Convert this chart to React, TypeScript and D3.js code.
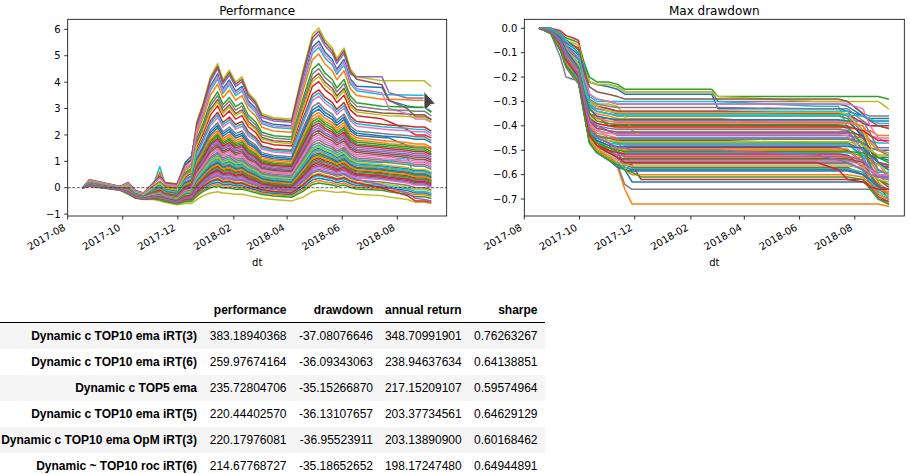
import React from 'react';
import * as d3 from 'd3';

// ---------- data ----------
const perfDates = ['2017-08-18', '2017-08-25', '2017-09-28', '2017-10-07', '2017-10-15', '2017-10-24', '2017-11-04', '2017-11-11', '2017-11-17', '2017-11-30', '2017-12-09', '2017-12-16', '2017-12-22', '2017-12-29', '2018-01-06', '2018-01-14', '2018-01-20', '2018-01-27', '2018-02-03', '2018-02-10', '2018-02-17', '2018-02-25', '2018-03-04', '2018-03-17', '2018-04-06', '2018-04-19', '2018-04-29', '2018-05-06', '2018-05-13', '2018-05-21', '2018-05-26', '2018-06-03', '2018-06-10', '2018-06-17', '2018-07-15', '2018-07-23', '2018-08-12', '2018-08-21', '2018-08-31', '2018-09-07'];

const perfSeries: number[][] = [
  [0, .18, -.02, -.02, -.25, -.32, -.12, -.02, -.17, -.25, .15, .25, 1.03, 1.45, 2.0, 2.28, 1.95, 2.12, 1.88, 1.98, 1.65, 1.48, 1.2, 1.1, 1.05, 2.08, 2.83, 2.98, 2.74, 2.58, 2.36, 2.58, 2.15, 1.98, 1.9, 1.88, 1.6, 1.55, 1.55, 1.5],
  [0, .17, -.03, -.04, -.26, -.33, -.15, -.06, -.2, -.28, .09, .18, .91, 1.31, 1.82, 2.08, 1.78, 1.93, 1.71, 1.8, 1.49, 1.33, 1.07, .98, .93, 1.88, 2.59, 2.73, 2.51, 2.36, 2.16, 2.36, 1.96, 1.8, 1.7, 1.67, 1.62, 1.57, 1.57, 1.45],
  [0, .16, -.04, -.06, -.27, -.34, -.17, -.09, -.23, -.31, .05, .13, .82, 1.21, 1.69, 1.94, 1.65, 1.79, 1.58, 1.66, 1.38, 1.22, .98, .88, .83, 1.74, 2.41, 2.54, 2.34, 2.19, 2.0, 2.19, 1.82, 1.66, 1.57, 1.54, 1.49, 1.43, 1.43, 1.31],
  [0, .22, 0, .05, -.2, -.28, -.01, .14, -.05, -.11, .4, .54, 1.53, 2.05, 2.75, 3.1, 2.68, 2.91, 2.6, 2.73, 2.31, 2.1, 1.74, 1.63, 1.58, 2.9, 3.84, 4.02, 3.71, 3.5, 3.22, 3.5, 2.95, 2.73, 2.61, 2.5, 2.2, 2.0, 2.0, 1.9],
  [0, .15, -.04, -.07, -.28, -.35, -.19, -.12, -.25, -.33, 0, .08, .73, 1.1, 1.56, 1.79, 1.52, 1.65, 1.45, 1.53, 1.26, 1.11, .88, .79, .74, 1.59, 2.23, 2.36, 2.17, 2.03, 1.85, 2.03, 1.68, 1.53, 1.44, 1.41, 1.35, 1.29, 1.29, 1.18],
  [0, .14, -.04, -.08, -.29, -.36, -.21, -.15, -.27, -.35, -.04, .03, .64, 1.0, 1.43, 1.64, 1.39, 1.51, 1.32, 1.4, 1.14, 1.0, .78, .7, .65, 1.44, 2.05, 2.18, 2.0, 1.87, 1.7, 1.87, 1.54, 1.4, 1.31, 1.28, 1.22, 1.15, 1.15, 1.05],
  [0, .14, -.05, -.1, -.3, -.36, -.23, -.18, -.29, -.38, -.09, -.02, .55, .89, 1.3, 1.5, 1.26, 1.37, 1.2, 1.26, 1.03, .89, .69, .6, .55, 1.3, 1.87, 1.99, 1.82, 1.7, 1.55, 1.7, 1.4, 1.26, 1.18, 1.15, 1.08, 1.01, 1.01, .91],
  [0, .13, -.05, -.11, -.31, -.37, -.25, -.21, -.32, -.4, -.13, -.07, .46, .79, 1.16, 1.35, 1.13, 1.23, 1.07, 1.13, .91, .78, .59, .51, .46, 1.15, 1.69, 1.81, 1.65, 1.54, 1.39, 1.54, 1.26, 1.13, 1.05, 1.01, .95, .88, .88, .78],
  [0, .3, .05, .2, -.1, -.2, .2, .45, .2, .15, .9, 1.1, 2.5, 3.2, 4.2, 4.7, 4.1, 4.45, 4.0, 4.2, 3.6, 3.3, 2.8, 2.65, 2.6, 4.5, 5.8, 6.05, 5.6, 5.3, 4.9, 5.3, 4.5, 4.2, 4.05, 4.05, 4.05, 4.05, 4.05, 3.85],
  [0, .27, .03, .15, -.14, -.23, .12, .8, .11, .05, .72, .9, 2.15, 2.78, 3.67, 4.12, 3.58, 3.89, 3.49, 3.67, 3.13, 2.86, 2.42, 2.28, 2.23, 3.92, 5.09, 5.31, 4.91, 4.65, 4.29, 4.65, 3.94, 3.67, 3.53, 3.52, 3.51, 3.5, 3.5, 3.32],
  [0, .28, .04, .16, -.12, -.22, .15, .55, .14, .09, .95, 1.2, 2.26, 2.92, 3.85, 4.31, 3.76, 4.08, 3.66, 3.84, 3.29, 3.01, 2.54, 2.4, 2.35, 4.11, 5.32, 5.56, 5.14, 4.86, 4.49, 4.86, 4.12, 3.84, 3.8, 3.3, 3.1, 3.05, 3.05, 2.9],
  [0, .26, .03, .13, -.15, -.24, .1, .6, .08, .02, .66, .83, 2.03, 2.64, 3.5, 3.92, 3.41, 3.7, 3.32, 3.49, 2.98, 2.72, 2.29, 2.15, 2.1, 3.72, 4.85, 5.07, 4.68, 4.43, 4.09, 4.43, 3.75, 3.49, 3.35, 3.35, 3.33, 3.31, 3.31, 3.14],
  [0, .25, .02, .1, -.17, -.25, .06, .24, .04, -.03, .57, .73, 1.85, 2.43, 3.23, 3.63, 3.15, 3.42, 3.07, 3.22, 2.74, 2.5, 2.1, 1.97, 1.92, 3.43, 4.49, 4.7, 4.34, 4.1, 3.78, 4.1, 3.47, 3.22, 3.09, 3.08, 3.06, 3.04, 3.04, 2.87],
  [0, .21, -.01, .03, -.21, -.29, -.05, .09, -.08, -.15, .33, .45, 1.38, 1.87, 2.53, 2.86, 2.47, 2.68, 2.39, 2.51, 2.12, 1.91, 1.58, 1.47, 1.42, 2.66, 3.54, 3.71, 3.43, 3.23, 2.97, 3.23, 2.71, 2.51, 2.4, 2.38, 2.34, 2.3, 2.3, 2.16],
  [0, .29, .04, .18, -.11, -.21, .17, .41, .17, .12, .84, 1.03, 2.38, 3.06, 4.02, 4.51, 3.93, 4.26, 3.83, 4.02, 3.44, 3.15, 2.67, 2.53, 2.48, 4.31, 5.56, 5.8, 5.37, 5.08, 4.7, 5.08, 4.31, 4.2, 4.2, 3.6, 3.4, 3.4, 3.4, 3.38],
  [0, .23, .01, .07, -.18, -.27, .02, .18, -.01, -.07, .48, .62, 1.67, 2.22, 2.97, 3.34, 2.9, 3.14, 2.81, 2.95, 2.51, 2.28, 1.9, 1.78, 1.73, 3.14, 4.13, 4.33, 4.0, 3.77, 3.48, 3.77, 3.18, 2.95, 2.83, 2.82, 2.79, 2.76, 2.76, 2.6],
  [0, .2, -.01, .01, -.23, -.3, -.07, .05, -.11, -.19, .27, .39, 1.26, 1.73, 2.35, 2.66, 2.29, 2.49, 2.22, 2.33, 1.96, 1.77, 1.46, 1.35, 1.3, 2.46, 3.3, 3.47, 3.2, 3.01, 2.77, 3.01, 2.53, 2.33, 2.22, 2.2, 2.16, 2.12, 2.12, 1.98],
  [0, .19, -.02, -.01, -.24, -.31, -.1, .01, -.14, -.22, .21, .32, 1.14, 1.59, 2.18, 2.47, 2.12, 2.3, 2.05, 2.15, 1.81, 1.62, 1.33, 1.22, 1.17, 2.27, 3.06, 3.22, 2.97, 2.79, 2.56, 2.79, 2.34, 2.15, 2.05, 2.03, 1.98, 1.93, 1.93, 1.8],
  [0, .05, -.1, -.25, -.4, -.45, -.45, -.5, -.55, -.65, -.6, -.6, -.45, -.3, -.2, -.15, -.2, -.22, -.25, -.25, -.3, -.35, -.4, -.45, -.5, -.35, -.15, -.1, -.12, -.15, -.18, -.15, -.2, -.25, -.3, -.35, -.45, -.55, -.55, -.6],
  [0, .12, -.06, -.12, -.32, -.38, -.27, -.23, -.34, -.43, -.18, -.12, .38, .68, 1.03, 1.21, 1.0, 1.09, .94, 1.0, .79, .67, .5, .42, .37, 1.01, 1.52, 1.62, 1.48, 1.38, 1.24, 1.38, 1.12, 1.0, .95, 1.0, 1.15, .3, .28, .22],
  [0, .12, -.06, -.13, -.32, -.38, -.28, -.25, -.35, -.44, -.21, -.16, .32, .61, .94, 1.11, .92, .99, .86, .91, .71, .6, .43, .36, .31, .91, 1.4, 1.5, 1.37, 1.27, 1.14, 1.27, 1.02, .91, .83, .79, .72, .65, .65, .56],
  [0, .11, -.06, -.14, -.33, -.39, -.29, -.27, -.37, -.46, -.24, -.19, .26, .54, .86, 1.01, .83, .9, .77, .82, .64, .53, .37, .29, .24, .81, 1.28, 1.38, 1.25, 1.16, 1.04, 1.16, .93, .82, .74, .71, .63, .55, .55, .47],
  [0, .11, -.07, -.15, -.33, -.39, -.31, -.29, -.38, -.47, -.27, -.23, .2, .47, .77, .92, .75, .81, .69, .73, .56, .45, .3, .23, .18, .72, 1.16, 1.25, 1.14, 1.05, .94, 1.05, .83, .73, .66, .62, .54, .46, .46, .38],
  [0, .1, -.07, -.16, -.34, -.4, -.32, -.31, -.4, -.49, -.3, -.26, .14, .4, .68, .82, .66, .71, .6, .64, .48, .38, .24, .17, .12, .62, 1.04, 1.13, 1.02, .94, .84, .94, .74, .64, .57, .53, .45, .37, .37, .29],
  [0, .1, -.07, -.17, -.35, -.4, -.33, -.33, -.41, -.51, -.33, -.29, .08, .33, .59, .72, .57, .62, .52, .55, .4, .31, .18, .11, .06, .52, .92, 1.01, .91, .83, .73, .83, .65, .55, .48, .44, .36, .28, .28, .2],
  [0, .09, -.08, -.18, -.35, -.41, -.35, -.35, -.43, -.52, -.36, -.33, .02, .26, .5, .63, .49, .53, .43, .46, .32, .23, .11, .05, 0, .43, .8, .88, .8, .72, .63, .72, .55, .46, .4, .35, .27, .19, .19, .11],
  [0, .09, -.08, -.19, -.36, -.41, -.36, -.37, -.44, -.54, -.39, -.36, -.04, .19, .42, .53, .4, .43, .35, .37, .25, .16, .05, -.02, -.07, .33, .68, .76, .68, .61, .53, .61, .46, .37, .31, .27, .18, .09, .09, .02],
  [0, .08, -.08, -.2, -.36, -.42, -.37, -.39, -.46, -.55, -.42, -.4, -.1, .12, .33, .43, .32, .34, .26, .28, .17, .09, -.02, -.08, -.13, .23, .56, .64, .57, .5, .43, .5, .36, .28, .22, .18, .09, 0, 0, -.07],
  [0, .08, -.08, -.2, -.37, -.42, -.38, -.4, -.47, -.57, -.44, -.42, -.14, .07, .26, .36, .25, .27, .2, .22, .11, .03, -.06, -.12, -.17, .16, .47, .55, .48, .42, .35, .42, .29, .22, .16, .11, .02, -.07, -.07, -.13],
  [0, .07, -.09, -.21, -.37, -.43, -.39, -.41, -.48, -.58, -.46, -.45, -.18, .02, .2, .29, .19, .2, .13, .15, .05, -.02, -.11, -.17, -.22, .09, .39, .45, .39, .34, .28, .34, .22, .15, .09, .05, -.04, -.14, -.14, -.2],
  [0, .07, -.09, -.22, -.38, -.43, -.4, -.43, -.49, -.59, -.49, -.47, -.23, -.04, .13, .21, .12, .13, .07, .08, -.01, -.08, -.16, -.22, -.27, .01, .3, .36, .31, .26, .2, .26, .15, .08, .03, -.02, -.11, -.2, -.2, -.27],
  [0, .07, -.09, -.22, -.38, -.43, -.41, -.44, -.5, -.6, -.51, -.5, -.27, -.09, .06, .14, .06, .06, .01, .02, -.07, -.13, -.21, -.26, -.31, -.06, .21, .27, .22, .18, .12, .18, .08, .02, -.04, -.09, -.18, -.27, -.27, -.33],
  [0, .06, -.09, -.23, -.39, -.44, -.42, -.46, -.52, -.61, -.53, -.52, -.32, -.14, 0, .07, -.01, -.01, -.06, -.05, -.12, -.19, -.26, -.31, -.36, -.13, .12, .18, .14, .1, .05, .1, .01, -.05, -.1, -.15, -.25, -.34, -.34, -.4],
  [0, .08, -.08, -.2, -.36, -.42, -.38, -.4, -.46, -.56, -.44, -.42, -.15, .05, .24, .33, .22, .24, .16, .18, .08, .01, -.08, -.14, -.19, .12, .43, .5, .43, .38, .32, .38, .25, .18, 0, -.1, -.3, -.5, -.5, -.55],
  [0, .09, -.08, -.19, -.36, -.42, -.36, -.38, -.45, -.55, -.4, -.38, -.07, .15, .37, .48, .36, .38, .3, .32, .21, .12, .02, -.05, -.1, .28, .62, .7, .62, .55, .48, .55, .41, .32, .1, 0, -.2, -.4, -.45, -.5],
  [0, .3, .05, .19, -.11, -.2, .19, .43, .19, .13, .87, 1.07, 2.44, 3.13, 4.11, 4.6, 4.01, 4.36, 3.92, 4.11, 3.52, 3.23, 2.74, 2.59, 2.54, 4.4, 5.68, 5.93, 5.49, 5.19, 4.8, 5.19, 4.41, 4.11, 3.9, 3.3, 3.0, 2.7, 2.7, 2.6],
  [0, .28, .04, .16, -.13, -.22, .14, .36, .13, .07, .75, .93, 2.21, 2.85, 3.76, 4.22, 3.67, 3.98, 3.58, 3.75, 3.21, 2.94, 2.48, 2.34, 2.29, 4.02, 5.21, 5.44, 5.03, 4.76, 4.39, 4.76, 4.03, 3.75, 3.6, 3.0, 2.8, 2.6, 2.6, 2.5],
  [0, .24, .01, .09, -.17, -.26, .04, .21, .01, -.05, .53, .68, 1.76, 2.33, 3.1, 3.49, 3.03, 3.28, 2.94, 3.09, 2.63, 2.39, 2.0, 1.88, 1.83, 3.29, 4.31, 4.51, 4.17, 3.94, 3.63, 3.94, 3.33, 3.09, 2.96, 2.95, 2.93, 2.9, 2.9, 2.74],
  [0, .23, .01, .07, -.19, -.27, .01, .17, -.02, -.09, .45, .59, 1.62, 2.15, 2.88, 3.25, 2.81, 3.05, 2.73, 2.87, 2.43, 2.21, 1.84, 1.72, 1.67, 3.05, 4.02, 4.21, 3.88, 3.67, 3.38, 3.67, 3.09, 2.87, 2.75, 2.73, 2.7, 2.67, 2.67, 2.52],
  [0, .2, -.01, .02, -.22, -.3, -.06, .07, -.1, -.17, .3, .42, 1.32, 1.8, 2.44, 2.76, 2.38, 2.58, 2.3, 2.42, 2.04, 1.84, 1.52, 1.41, 1.36, 2.56, 3.42, 3.59, 3.31, 3.12, 2.87, 3.12, 2.62, 2.42, 2.31, 2.29, 2.25, 2.21, 2.21, 2.07],
  [0, .18, -.02, -.02, -.24, -.32, -.11, -.01, -.16, -.23, .18, .28, 1.08, 1.52, 2.09, 2.37, 2.04, 2.21, 1.96, 2.06, 1.73, 1.55, 1.26, 1.16, 1.11, 2.17, 2.94, 3.1, 2.85, 2.68, 2.46, 2.68, 2.24, 2.06, 1.96, 1.94, 1.89, 1.84, 1.84, 1.71],
  [0, .17, -.03, -.03, -.26, -.33, -.14, -.04, -.19, -.27, .12, .22, .97, 1.38, 1.91, 2.18, 1.86, 2.02, 1.79, 1.89, 1.57, 1.4, 1.14, 1.04, .99, 1.98, 2.71, 2.85, 2.63, 2.47, 2.26, 2.47, 2.06, 1.89, 1.79, 1.76, 1.71, 1.66, 1.66, 1.54],
  [0, .16, -.03, -.05, -.27, -.34, -.16, -.08, -.22, -.29, .07, .16, .86, 1.26, 1.76, 2.01, 1.71, 1.86, 1.64, 1.73, 1.44, 1.27, 1.02, .93, .88, 1.81, 2.5, 2.64, 2.43, 2.28, 2.08, 2.28, 1.89, 1.73, 1.64, 1.61, 1.55, 1.5, 1.5, 1.38],
  [0, .15, -.04, -.06, -.28, -.35, -.18, -.11, -.24, -.32, .02, .11, .77, 1.15, 1.63, 1.86, 1.58, 1.72, 1.51, 1.6, 1.32, 1.16, .93, .84, .79, 1.66, 2.32, 2.45, 2.25, 2.11, 1.93, 2.11, 1.75, 1.6, 1.51, 1.48, 1.42, 1.36, 1.36, 1.25],
  [0, .15, -.04, -.08, -.28, -.35, -.2, -.13, -.26, -.34, -.02, .05, .69, 1.05, 1.49, 1.72, 1.46, 1.58, 1.39, 1.46, 1.2, 1.06, .83, .74, .69, 1.52, 2.14, 2.27, 2.08, 1.95, 1.78, 1.95, 1.61, 1.46, 1.37, 1.34, 1.28, 1.22, 1.22, 1.11],
  [0, .14, -.05, -.09, -.29, -.36, -.22, -.16, -.28, -.37, -.07, 0, .6, .94, 1.36, 1.57, 1.33, 1.44, 1.26, 1.33, 1.08, .95, .74, .65, .6, 1.37, 1.96, 2.08, 1.91, 1.78, 1.62, 1.78, 1.47, 1.33, 1.24, 1.21, 1.15, 1.08, 1.08, .98],
  [0, .13, -.05, -.1, -.3, -.37, -.24, -.19, -.31, -.39, -.11, -.05, .51, .84, 1.23, 1.43, 1.2, 1.3, 1.13, 1.2, .97, .84, .64, .56, .51, 1.23, 1.78, 1.9, 1.74, 1.62, 1.47, 1.62, 1.33, 1.2, 1.11, 1.08, 1.01, .95, .95, .85],
  [0, .12, -.06, -.12, -.31, -.38, -.26, -.22, -.33, -.41, -.16, -.1, .42, .73, 1.1, 1.28, 1.07, 1.16, 1.0, 1.06, .85, .73, .54, .46, .41, 1.08, 1.61, 1.71, 1.57, 1.46, 1.32, 1.46, 1.19, 1.06, .98, .95, .88, .81, .81, .71],
  [0, .12, -.06, -.13, -.32, -.38, -.27, -.24, -.35, -.43, -.19, -.14, .35, .65, .99, 1.16, .96, 1.04, .9, .95, .75, .64, .46, .39, .34, .96, 1.46, 1.56, 1.42, 1.32, 1.19, 1.32, 1.07, .95, .87, .84, .77, .69, .69, .6],
  [0, .11, -.06, -.14, -.32, -.39, -.29, -.26, -.36, -.45, -.22, -.17, .29, .58, .9, 1.06, .88, .95, .81, .86, .68, .56, .4, .33, .28, .86, 1.34, 1.44, 1.31, 1.21, 1.09, 1.21, .98, .86, .79, .75, .68, .6, .6, .51],
  [0, .11, -.07, -.15, -.33, -.39, -.3, -.28, -.38, -.47, -.25, -.21, .23, .51, .81, .97, .79, .85, .73, .77, .6, .49, .34, .26, .21, .77, 1.22, 1.31, 1.2, 1.1, .99, 1.1, .88, .77, .7, .66, .59, .51, .51, .42],
  [0, .1, -.07, -.16, -.34, -.4, -.31, -.3, -.39, -.48, -.28, -.24, .17, .44, .72, .87, .7, .76, .64, .68, .52, .42, .27, .2, .15, .67, 1.1, 1.19, 1.08, .99, .89, .99, .79, .68, .61, .57, .5, .42, .42, .33],
  [0, .1, -.07, -.16, -.34, -.4, -.33, -.32, -.41, -.5, -.31, -.28, .11, .37, .64, .77, .62, .67, .56, .6, .44, .34, .21, .14, .09, .57, .98, 1.07, .97, .89, .79, .89, .69, .6, .53, .49, .41, .32, .32, .25],
  [0, .09, -.07, -.17, -.35, -.41, -.34, -.34, -.42, -.51, -.34, -.31, .05, .3, .55, .67, .53, .57, .47, .51, .36, .27, .14, .08, .03, .47, .86, .95, .85, .78, .68, .78, .6, .51, .44, .4, .32, .23, .23, .16],
  [0, .09, -.08, -.18, -.35, -.41, -.35, -.36, -.44, -.53, -.37, -.34, -.01, .23, .46, .58, .45, .48, .39, .42, .29, .2, .08, .02, -.03, .38, .74, .82, .74, .67, .58, .67, .51, .42, .35, .31, .23, .14, .14, .07],
];

const ddDates = ['2017-08-18', '2017-08-30', '2017-09-10', '2017-09-16', '2017-09-24', '2017-09-30', '2017-10-06', '2017-10-12', '2017-10-20', '2017-11-02', '2017-11-12', '2017-11-20', '2017-11-28', '2017-12-08', '2018-02-24', '2018-03-03', '2018-06-20', '2018-07-14', '2018-07-24', '2018-08-10', '2018-08-18', '2018-08-27', '2018-09-07'];

const ddSeries: number[][] = [
  [0, 0, -.03, -.06, -.08, -.1, -.14, -.22, -.23, -.24, -.25, -.27, -.27, -.27, -.27, -.33, -.33, -.33, -.34, -.36, -.38, -.38, -.38],
  [0, -.01, -.05, -.1, -.13, -.15, -.25, -.33, -.35, -.36, -.37, -.37, -.37, -.37, -.37, -.37, -.4, -.4, -.4, -.42, -.42, -.44, -.44],
  [0, 0, -.02, -.04, -.05, -.06, -.14, -.2, -.22, -.22, -.23, -.25, -.25, -.25, -.25, -.28, -.28, -.28, -.28, -.28, -.28, -.28, -.29],
  [0, 0, -.01, -.03, -.04, -.05, -.2, -.35, -.36, -.4, -.4, -.4, -.4, -.4, -.4, -.4, -.4, -.4, -.41, -.45, -.5, -.55, -.57],
  [0, -.01, -.05, -.1, -.14, -.17, -.27, -.35, -.37, -.37, -.38, -.38, -.38, -.38, -.38, -.38, -.38, -.38, -.38, -.38, -.4, -.4, -.41],
  [0, -.02, -.08, -.15, -.18, -.2, -.3, -.42, -.45, -.45, -.46, -.46, -.46, -.46, -.46, -.46, -.47, -.47, -.47, -.5, -.54, -.56, -.57],
  [0, -.02, -.07, -.13, -.17, -.2, -.33, -.45, -.48, -.5, -.52, -.52, -.52, -.52, -.52, -.52, -.52, -.52, -.52, -.55, -.55, -.56, -.56],
  [0, -.01, -.06, -.12, -.15, -.18, -.2, -.22, -.23, -.23, -.24, -.26, -.26, -.26, -.26, -.3, -.3, -.3, -.3, -.35, -.36, -.36, -.36],
  [0, 0, -.03, -.05, -.06, -.07, -.16, -.22, -.23, -.23, -.24, -.26, -.26, -.26, -.26, -.28, -.3, -.3, -.3, -.3, -.3, -.3, -.33],
  [0, 0, -.04, -.08, -.1, -.12, -.15, -.28, -.3, -.3, -.3, -.3, -.3, -.3, -.3, -.3, -.32, -.32, -.41, -.54, -.58, -.6, -.62],
  [0, -.02, -.08, -.14, -.18, -.2, -.33, -.45, -.5, -.53, -.55, -.58, -.63, -.63, -.63, -.63, -.63, -.63, -.63, -.63, -.64, -.66, -.68],
  [0, -.02, -.08, -.15, -.2, -.22, -.34, -.46, -.5, -.53, -.57, -.66, -.72, -.72, -.72, -.72, -.72, -.72, -.72, -.72, -.72, -.72, -.73],
  [0, -.01, -.05, -.1, -.13, -.15, -.24, -.32, -.34, -.35, -.36, -.36, -.36, -.36, -.36, -.36, -.36, -.36, -.37, -.45, -.5, -.53, -.55],
  [0, -.01, -.06, -.12, -.15, -.18, -.3, -.42, -.47, -.5, -.53, -.55, -.56, -.62, -.62, -.62, -.62, -.62, -.62, -.62, -.65, -.7, -.71],
  [0, -.02, -.07, -.12, -.16, -.19, -.29, -.39, -.42, -.43, -.43, -.43, -.43, -.43, -.43, -.43, -.43, -.43, -.43, -.47, -.52, -.58, -.6],
  [0, -.02, -.09, -.16, -.2, -.22, -.34, -.44, -.48, -.5, -.53, -.57, -.58, -.58, -.58, -.58, -.58, -.58, -.58, -.6, -.62, -.64, -.66],
  [0, -.01, -.06, -.11, -.14, -.17, -.27, -.38, -.41, -.45, -.47, -.48, -.48, -.48, -.48, -.48, -.48, -.48, -.48, -.5, -.52, -.55, -.62],
  [0, -.02, -.12, -.2, -.21, -.21, -.31, -.4, -.44, -.47, -.5, -.53, -.55, -.55, -.55, -.55, -.55, -.55, -.55, -.58, -.62, -.66, -.68],
  [0, -.01, -.04, -.08, -.12, -.15, -.22, -.3, -.31, -.31, -.32, -.36, -.42, -.44, -.44, -.44, -.44, -.44, -.44, -.46, -.5, -.52, -.52],
  [0, -.01, -.05, -.09, -.12, -.14, -.2, -.3, -.32, -.33, -.34, -.34, -.34, -.34, -.34, -.34, -.34, -.34, -.34, -.42, -.46, -.47, -.47],
  [0, -.01, -.06, -.11, -.15, -.18, -.28, -.4, -.44, -.45, -.45, -.45, -.45, -.45, -.45, -.45, -.45, -.45, -.45, -.47, -.49, -.5, -.5],
  [0, -.02, -.08, -.14, -.17, -.2, -.32, -.44, -.48, -.49, -.5, -.5, -.5, -.5, -.5, -.5, -.5, -.5, -.5, -.53, -.58, -.63, -.68],
  [0, -.02, -.07, -.13, -.17, -.2, -.31, -.43, -.47, -.5, -.53, -.54, -.54, -.54, -.54, -.54, -.54, -.54, -.54, -.56, -.6, -.64, -.7],
  [0, -.01, -.06, -.12, -.16, -.19, -.3, -.41, -.45, -.47, -.49, -.49, -.49, -.49, -.49, -.49, -.49, -.49, -.5, -.55, -.6, -.62, -.65],
  [0, -.01, -.04, -.08, -.11, -.13, -.22, -.31, -.33, -.34, -.35, -.35, -.35, -.35, -.35, -.35, -.35, -.35, -.36, -.43, -.52, -.55, -.56],
  [0, -.02, -.08, -.14, -.18, -.21, -.32, -.42, -.46, -.48, -.51, -.56, -.57, -.57, -.57, -.57, -.57, -.57, -.57, -.6, -.63, -.68, -.7],
  [0, -.01, -.05, -.1, -.13, -.16, -.25, -.33, -.36, -.39, -.39, -.39, -.39, -.39, -.39, -.39, -.39, -.39, -.39, -.4, -.44, -.45, -.45],
  [0, -.02, -.09, -.16, -.2, -.23, -.35, -.47, -.5, -.52, -.56, -.64, -.66, -.66, -.66, -.66, -.66, -.66, -.66, -.66, -.66, -.66, -.67],
  [0, -.01, -.05, -.1, -.13, -.16, -.26, -.36, -.39, -.4, -.41, -.41, -.41, -.41, -.41, -.41, -.41, -.41, -.42, -.5, -.55, -.56, -.58],
  [0, -.02, -.07, -.14, -.18, -.2, -.3, -.41, -.46, -.49, -.51, -.51, -.51, -.51, -.51, -.51, -.51, -.51, -.51, -.52, -.55, -.59, -.59],
  [0, -.01, -.04, -.07, -.09, -.11, -.2, -.27, -.29, -.3, -.31, -.31, -.31, -.31, -.31, -.31, -.31, -.31, -.32, -.36, -.37, -.37, -.37],
  [0, -.02, -.07, -.13, -.16, -.19, -.3, -.4, -.43, -.44, -.45, -.53, -.53, -.53, -.53, -.53, -.53, -.53, -.53, -.53, -.54, -.6, -.64],
  [0, -.01, -.07, -.13, -.17, -.2, -.3, -.41, -.45, -.46, -.47, -.47, -.47, -.47, -.47, -.47, -.47, -.47, -.47, -.53, -.58, -.6, -.6],
  [0, 0, -.02, -.05, -.07, -.08, -.18, -.3, -.32, -.33, -.34, -.34, -.34, -.34, -.34, -.34, -.35, -.35, -.35, -.39, -.4, -.4, -.4],
  [0, -.01, -.05, -.11, -.14, -.17, -.28, -.37, -.4, -.42, -.44, -.44, -.44, -.44, -.44, -.44, -.44, -.44, -.44, -.45, -.46, -.49, -.49],
  [0, 0, -.02, -.05, -.07, -.09, -.17, -.24, -.26, -.27, -.28, -.29, -.29, -.29, -.29, -.29, -.29, -.29, -.3, -.35, -.38, -.4, -.41],
  [0, -.01, -.04, -.08, -.1, -.12, -.2, -.27, -.29, -.3, -.31, -.31, -.31, -.31, -.31, -.31, -.31, -.31, -.31, -.33, -.4, -.45, -.47],
  [0, -.01, -.03, -.07, -.1, -.13, -.22, -.29, -.31, -.32, -.325, -.325, -.325, -.325, -.325, -.325, -.33, -.33, -.33, -.38, -.43, -.5, -.52],
  [0, -.01, -.05, -.09, -.12, -.15, -.24, -.3, -.32, -.34, -.345, -.345, -.345, -.345, -.345, -.345, -.345, -.345, -.35, -.42, -.48, -.55, -.6],
  [0, 0, -.02, -.05, -.08, -.1, -.22, -.31, -.34, -.35, -.355, -.355, -.355, -.355, -.355, -.355, -.355, -.355, -.355, -.36, -.37, -.39, -.39],
  [0, -.01, -.04, -.09, -.13, -.16, -.26, -.33, -.36, -.37, -.375, -.375, -.375, -.375, -.375, -.375, -.375, -.375, -.38, -.44, -.5, -.53, -.54],
  [0, -.01, -.06, -.11, -.15, -.18, -.28, -.35, -.37, -.38, -.385, -.385, -.385, -.385, -.385, -.385, -.385, -.385, -.385, -.4, -.47, -.5, -.51],
  [0, -.01, -.05, -.1, -.14, -.17, -.27, -.35, -.38, -.39, -.395, -.395, -.395, -.395, -.395, -.395, -.395, -.395, -.4, -.48, -.56, -.62, -.64],
  [0, -.02, -.07, -.13, -.17, -.2, -.3, -.37, -.39, -.4, -.405, -.405, -.405, -.405, -.405, -.405, -.405, -.405, -.405, -.42, -.44, -.46, -.46],
  [0, -.01, -.05, -.1, -.14, -.17, -.28, -.37, -.4, -.41, -.415, -.415, -.415, -.415, -.415, -.415, -.415, -.415, -.42, -.5, -.57, -.6, -.61],
  [0, -.01, -.06, -.12, -.16, -.19, -.3, -.38, -.41, -.42, -.425, -.425, -.425, -.425, -.425, -.425, -.425, -.425, -.425, -.44, -.5, -.55, -.56],
  [0, -.02, -.07, -.13, -.17, -.2, -.31, -.39, -.42, -.43, -.435, -.435, -.435, -.435, -.435, -.435, -.435, -.435, -.44, -.52, -.6, -.65, -.66],
  [0, -.01, -.06, -.12, -.16, -.19, -.31, -.41, -.44, -.45, -.455, -.455, -.455, -.455, -.455, -.455, -.455, -.455, -.455, -.47, -.53, -.58, -.6],
  [0, -.02, -.08, -.14, -.18, -.21, -.33, -.42, -.45, -.46, -.465, -.465, -.465, -.465, -.465, -.465, -.465, -.465, -.465, -.48, -.5, -.52, -.53],
  [0, -.01, -.06, -.12, -.16, -.19, -.31, -.42, -.45, -.47, -.475, -.475, -.475, -.475, -.475, -.475, -.475, -.475, -.475, -.52, -.6, -.68, -.7],
  [0, -.02, -.07, -.13, -.17, -.2, -.32, -.43, -.46, -.48, -.485, -.485, -.485, -.485, -.485, -.485, -.485, -.485, -.485, -.49, -.52, -.55, -.58],
  [0, -.02, -.08, -.14, -.18, -.21, -.33, -.44, -.47, -.49, -.495, -.495, -.495, -.495, -.495, -.495, -.495, -.495, -.495, -.55, -.62, -.66, -.67],
  [0, -.01, -.06, -.12, -.16, -.19, -.31, -.43, -.47, -.49, -.5, -.505, -.505, -.505, -.505, -.505, -.505, -.505, -.505, -.51, -.52, -.53, -.53],
  [0, -.02, -.07, -.13, -.17, -.2, -.33, -.45, -.48, -.5, -.51, -.515, -.515, -.515, -.515, -.515, -.515, -.515, -.52, -.57, -.64, -.69, -.71],
  [0, -.02, -.08, -.14, -.18, -.21, -.33, -.45, -.49, -.51, -.52, -.525, -.525, -.525, -.525, -.525, -.525, -.525, -.525, -.54, -.58, -.61, -.62],
  [0, -.01, -.07, -.13, -.17, -.2, -.32, -.44, -.48, -.51, -.53, -.535, -.535, -.535, -.535, -.535, -.535, -.535, -.535, -.55, -.6, -.65, -.66],
  [0, -.02, -.08, -.15, -.19, -.22, -.34, -.46, -.5, -.52, -.54, -.545, -.545, -.545, -.545, -.545, -.545, -.545, -.545, -.56, -.58, -.6, -.6],
  [0, -.02, -.09, -.15, -.19, -.22, -.34, -.46, -.5, -.53, -.55, -.555, -.555, -.555, -.555, -.555, -.555, -.555, -.555, -.58, -.64, -.7, -.72],
  [0, -.01, -.07, -.13, -.18, -.21, -.33, -.45, -.49, -.52, -.55, -.56, -.565, -.565, -.565, -.565, -.565, -.565, -.565, -.57, -.6, -.62, -.63],
  [0, -.02, -.08, -.14, -.18, -.21, -.34, -.46, -.5, -.53, -.56, -.57, -.575, -.575, -.575, -.575, -.575, -.575, -.575, -.59, -.63, -.67, -.69],
  [0, -.02, -.09, -.15, -.19, -.22, -.35, -.47, -.51, -.54, -.57, -.58, -.585, -.585, -.585, -.585, -.585, -.585, -.585, -.6, -.62, -.65, -.66],
  [0, -.02, -.08, -.14, -.19, -.22, -.34, -.46, -.5, -.53, -.56, -.58, -.6, -.6, -.6, -.6, -.6, -.6, -.6, -.61, -.64, -.68, -.7],
  [0, -.02, -.09, -.15, -.19, -.22, -.35, -.47, -.51, -.54, -.56, -.58, -.59, -.61, -.61, -.61, -.61, -.61, -.61, -.62, -.66, -.7, -.72],
  [0, -.01, -.07, -.13, -.17, -.2, -.32, -.44, -.48, -.51, -.53, -.55, -.55, -.55, -.55, -.55, -.55, -.58, -.62, -.63, -.65, -.66, -.66],
  [0, -.01, -.06, -.12, -.16, -.19, -.3, -.41, -.45, -.47, -.49, -.49, -.5, -.5, -.5, -.5, -.52, -.54, -.55, -.58, -.6, -.61, -.61],
];

const xTickLabels = ['2017-08', '2017-10', '2017-12', '2018-02', '2018-04', '2018-06', '2018-08'];
const perfTicks = [-1, 0, 1, 2, 3, 4, 5, 6];
const ddTicks = [0, -0.1, -0.2, -0.3, -0.4, -0.5, -0.6, -0.7];

const tableColumns = ['performance', 'drawdown', 'annual return', 'sharpe'];
const tableIndex = ['Dynamic c TOP10 ema iRT(3)', 'Dynamic c TOP10 ema iRT(6)', 'Dynamic c TOP5 ema', 'Dynamic c TOP10 ema iRT(5)', 'Dynamic c TOP10 ema OpM iRT(3)', 'Dynamic ~ TOP10 roc iRT(6)'];
const tablePerformance = [383.18940368, 259.97674164, 235.72804706, 220.44402570, 220.17976081, 214.67768727];
const tableDrawdown = [-37.08076646, -36.09343063, -35.15266870, -36.13107657, -36.95523911, -35.18652652];
const tableAnnualReturn = [348.70991901, 238.94637634, 217.15209107, 203.37734561, 203.13890900, 198.17247480];
const tableSharpe = [0.76263267, 0.64138851, 0.59574964, 0.64629129, 0.60168462, 0.64944891];

// ---------- helpers ----------
const parseDay = d3.utcParse('%Y-%m-%d');
const parseMonth = d3.utcParse('%Y-%m');
const T0 = Date.UTC(2017, 7, 1);
const X_DOMAIN: [Date, Date] = [new Date(T0), new Date(T0 + 419.7 * 86400000)];
const COLORS = d3.schemeCategory10;
const FONT = "'DejaVu Sans', sans-serif";

type PanelProps = {
  left: number; right: number; top: number; bottom: number;
  title: string; dates: string[]; series: number[][];
  yDomain: [number, number]; yTicks: number[]; yFormat: (v: number) => string;
  zeroLine?: boolean;
};

function Panel(p: PanelProps) {
  const x = d3.scaleUtc().domain(X_DOMAIN).range([p.left, p.right]);
  const y = d3.scaleLinear().domain(p.yDomain).range([p.bottom, p.top]);
  const ds = p.dates.map((d) => parseDay(d) as Date);
  const line = d3.line<number>().x((_, i) => x(ds[i])).y((v) => y(v));
  const cx = (p.left + p.right) / 2;
  const clipId = 'clip-' + p.title.replace(/\s/g, '');
  return (
    <g>
      <defs>
        <clipPath id={clipId}>
          <rect x={p.left} y={p.top} width={p.right - p.left} height={p.bottom - p.top} />
        </clipPath>
      </defs>
      <g clipPath={`url(#${clipId})`}>
        {p.series.map((s, i) => (
          <path key={i} d={line(s.slice(0, ds.length)) || ''} fill="none" stroke={COLORS[i % 10]}
            strokeWidth={1.5} strokeLinejoin="round" strokeLinecap="square" />
        ))}
        {p.zeroLine && (
          <line x1={p.left} x2={p.right} y1={y(0)} y2={y(0)} stroke="#333" strokeWidth={0.8} strokeDasharray="3,1.6" />
        )}
      </g>
      <rect x={p.left} y={p.top} width={p.right - p.left} height={p.bottom - p.top} fill="none" stroke="#000" strokeWidth={0.8} />
      {p.yTicks.map((t) => (
        <g key={'y' + t}>
          <line x1={p.left - 3.5} x2={p.left} y1={y(t)} y2={y(t)} stroke="#000" strokeWidth={0.8} />
          <text x={p.left - 7} y={y(t)} dy="0.36em" textAnchor="end" fontSize={10} fill="#000" fontFamily={FONT}>{p.yFormat(t)}</text>
        </g>
      ))}
      {xTickLabels.map((lab) => {
        const xv = x(parseMonth(lab) as Date);
        return (
          <g key={'x' + lab}>
            <line x1={xv} x2={xv} y1={p.bottom} y2={p.bottom + 3.5} stroke="#000" strokeWidth={0.8} />
            <text transform={`translate(${xv - 1.5},${p.bottom + 13.5}) rotate(-30)`} textAnchor="end" fontSize={10} fill="#000" fontFamily={FONT}>{lab}</text>
          </g>
        );
      })}
      <text x={cx} y={14.5} textAnchor="middle" fontSize={12} fill="#000" fontFamily={FONT}>{p.title}</text>
      <text x={cx} y={266} textAnchor="middle" fontSize={10} fill="#000" fontFamily={FONT}>dt</text>
    </g>
  );
}

function Table() {
  const TFONT = "'Liberation Sans', Arial, Helvetica, sans-serif";
  const colRight = [286.5, 373, 461.7, 537.5];
  const indexRight = 197;
  const rowTop = 323;
  const rowH = 26;
  const fmt = (v: number) => v.toFixed(8);
  const cols = [tablePerformance, tableDrawdown, tableAnnualReturn, tableSharpe];
  return (
    <g fontFamily={TFONT} fontSize={12} fill="#000">
      {tableIndex.map((_, r) => (r % 2 === 0 ? (
        <rect key={'bg' + r} x={0} y={rowTop + r * rowH} width={545} height={rowH} fill="#f5f5f5" />
      ) : null))}
      <line x1={0} x2={545} y1={322.5} y2={322.5} stroke="#000" strokeWidth={1} />
      {tableColumns.map((c, i) => (
        <text key={c} x={colRight[i]} y={314.3} textAnchor="end" fontWeight="bold">{c}</text>
      ))}
      {tableIndex.map((name, r) => (
        <g key={name}>
          <text x={indexRight} y={340 + r * rowH} textAnchor="end" fontWeight="bold">{name}</text>
          {cols.map((col, i) => (
            <text key={i} x={colRight[i]} y={340 + r * rowH} textAnchor="end">{fmt(col[r])}</text>
          ))}
        </g>
      ))}
    </g>
  );
}

export default function App() {
  return (
    <svg width={910} height={474} viewBox="0 0 910 474"
      style={{ position: 'absolute', left: 0, top: 0, background: '#fff', display: 'block' }}>
      <rect x={0} y={0} width={910} height={474} fill="#fff" />
      <Panel left={67.7} right={446.7} top={19.3} bottom={216} title="Performance"
        dates={perfDates} series={perfSeries} yDomain={[-1.072, 6.381]} yTicks={perfTicks}
        yFormat={d3.format('d')} zeroLine />
      <Panel left={524.3} right={904.3} top={19.3} bottom={216} title="Max drawdown"
        dates={ddDates} series={ddSeries} yDomain={[-0.7696, 0.0369]} yTicks={ddTicks}
        yFormat={d3.format('.1f')} />
      <Table />
      <path d="M424,91.5 L435.5,104 L430.2,104.6 L426.2,109.6 L424,108.2 Z" fill="#444" stroke="#fff" strokeWidth={0.8} />
    </svg>
  );
}
